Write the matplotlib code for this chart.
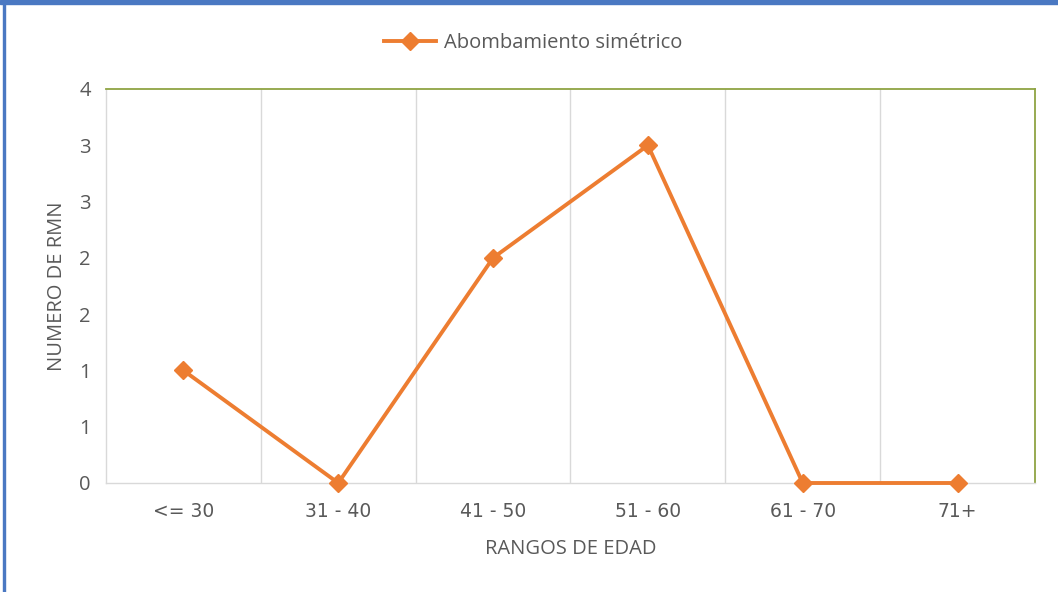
import math
import matplotlib
matplotlib.use("Agg")
import matplotlib.pyplot as plt
from matplotlib.patches import Rectangle
from matplotlib.ticker import FuncFormatter, MultipleLocator

categories = ["<= 30", "31 - 40", "41 - 50", "51 - 60", "61 - 70", "71+"]
values = [1, 0, 2, 3, 0, 0]
series_name = "Abombamiento simétrico"

plt.rcParams["font.family"] = ["Open Sans", "DejaVu Sans"]

orange = "#ED7D31"
text_gray = "#595959"
grid_gray = "#D9D9D9"
green = "#8FA443"

fig = plt.figure(figsize=(10.58, 5.92), dpi=100)
fig.patch.set_facecolor("white")
ax = fig.add_axes([106 / 1058, 1 - 483 / 592, (1035 - 106) / 1058, (483 - 89) / 592])

x = list(range(len(categories)))
ax.plot(x, values, color=orange, lw=2.8, marker="D", markersize=9,
        markerfacecolor=orange, markeredgecolor=orange, clip_on=False,
        label=series_name, zorder=5)

ax.set_xlim(-0.5, len(categories) - 0.5)
ax.set_ylim(0, 3.5)
ax.yaxis.set_major_locator(MultipleLocator(0.5))
ax.yaxis.set_major_formatter(FuncFormatter(lambda v, p: f"{int(math.floor(v + 0.5))}"))

ax.set_xticks(x)
ax.set_xticklabels(categories, family=["DejaVu Sans"], fontsize=13.5)
# vertical gridlines between categories
ax.set_xticks([i + 0.5 for i in x[:-1]], minor=True)
ax.grid(True, which="minor", axis="x", color=grid_gray, lw=1)
ax.tick_params(axis="both", which="both", length=0, colors=text_gray)
ax.tick_params(axis="y", labelsize=14.5, pad=11)
ax.tick_params(axis="x", pad=14)

for s in ("left", "bottom"):
    ax.spines[s].set_color(grid_gray)
    ax.spines[s].set_linewidth(1)
for s in ("top", "right"):
    ax.spines[s].set_color(green)
    ax.spines[s].set_linewidth(1.3)

ax.set_xlabel("RANGOS DE EDAD", color=text_gray, fontsize=14.5, labelpad=13)
ax.set_ylabel("NUMERO DE RMN", color=text_gray, fontsize=14.5, labelpad=9)

ax.legend(loc="center", bbox_to_anchor=(533 / 1058, 1 - 43 / 592),
          bbox_transform=fig.transFigure, frameon=False, fontsize=14.5,
          handlelength=2.6, handletextpad=0.4, labelcolor=text_gray)

# outer frame
fig.patches.append(Rectangle((0, 1 - 4 / 592), 1, 4 / 592, transform=fig.transFigure,
                             color="#4A78C2", zorder=10))
fig.patches.append(Rectangle((3 / 1058, 0), 2 / 1058, 1, transform=fig.transFigure,
                             color="#4A78C2", zorder=10))

fig.savefig("out.png", dpi=100, facecolor="white")
